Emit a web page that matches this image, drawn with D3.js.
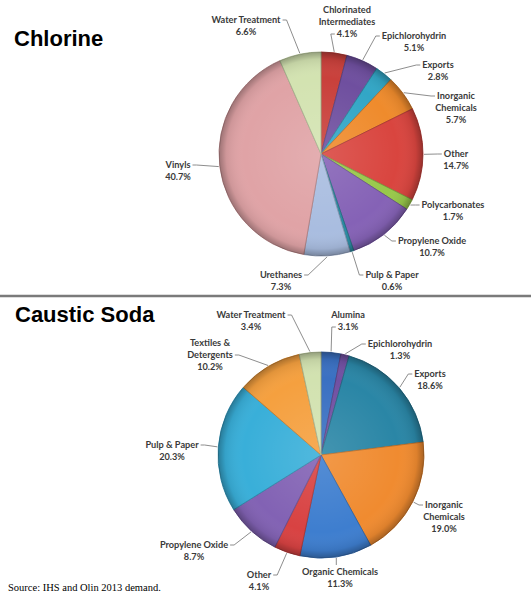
<!DOCTYPE html>
<html>
<head>
<meta charset="utf-8">
<script src="https://cdn.jsdelivr.net/npm/d3@7"></script>
<style>
  body { margin: 0; background: #fff; }
  svg { display: block; }
</style>
</head>
<body>
<div id="chart"></div>
<script>
// chlorine demand shares (%), clockwise from 12 o'clock
var clNames = ["Chlorinated\nIntermediates", "Epichlorohydrin", "Exports", "Inorganic\nChemicals",
               "Other", "Polycarbonates", "Propylene Oxide", "Pulp & Paper", "Urethanes",
               "Vinyls", "Water Treatment"];
var clValues = [4.1, 5.1, 2.8, 5.7, 14.7, 1.7, 10.7, 0.6, 7.3, 40.7, 6.6];
var clColors = ["#c9403b", "#6f4f9f", "#32a6c6", "#ef8b2c", "#d9453f", "#98c84a",
                "#8562b6", "#2a8ba2", "#a9bde0", "#e0a3a6", "#d3e3b1"];

// caustic soda demand shares (%)
var csNames = ["Alumina", "Epichlorohydrin", "Exports", "Inorganic\nChemicals",
               "Organic Chemicals", "Other", "Propylene Oxide", "Pulp & Paper",
               "Textiles &\nDetergents", "Water Treatment"];
var csValues = [3.1, 1.3, 18.6, 19.0, 11.3, 4.1, 8.7, 20.3, 10.2, 3.4];
var csColors = ["#3a70c2", "#7150a2", "#2a86a6", "#f08b30", "#3e7ecf", "#d84242",
                "#8262b4", "#39afd9", "#f5a03f", "#d2e2b0"];

// label layout: centre x, y of first line centre, which side the leader joins, line it joins
var clLabels = [
  {x: 347, y: 10, side: "L", row: 2}, {x: 414, y: 36, side: "L", row: 0},
  {x: 438, y: 65, side: "L", row: 0}, {x: 456, y: 96, side: "L", row: 0},
  {x: 456, y: 154, side: "L", row: 0}, {x: 453, y: 205, side: "L", row: 0},
  {x: 432, y: 241, side: "L", row: 0}, {x: 392, y: 275, side: "L", row: 0},
  {x: 281, y: 275, side: "R", row: 0}, {x: 178, y: 165, side: "R", row: 0},
  {x: 246, y: 20, side: "R", row: 0}
];
var csLabels = [
  {x: 348, y: 315, side: "L", row: 1}, {x: 400, y: 344, side: "L", row: 0},
  {x: 430, y: 374, side: "L", row: 0}, {x: 444, y: 505, side: "L", row: 0},
  {x: 340, y: 572, side: "T", row: 0}, {x: 259, y: 575, side: "R", row: 0},
  {x: 194, y: 545, side: "R", row: 0}, {x: 172, y: 445, side: "R", row: 0},
  {x: 210, y: 343, side: "R", row: 1}, {x: 251, y: 315, side: "R", row: 0}
];

var width = 531, height = 595;
var svg = d3.select("#chart").append("svg")
    .attr("width", width)
    .attr("height", height);

var defs = svg.append("defs");
var grad = defs.append("radialGradient").attr("id", "shade");
grad.append("stop").attr("offset", "0%").attr("stop-color", "#fff").attr("stop-opacity", 0.12);
grad.append("stop").attr("offset", "75%").attr("stop-color", "#fff").attr("stop-opacity", 0);
grad.append("stop").attr("offset", "93%").attr("stop-color", "#000").attr("stop-opacity", 0.08);
grad.append("stop").attr("offset", "100%").attr("stop-color", "#000").attr("stop-opacity", 0.3);

function drawPie(names, values, colors, labels, cx, cy, r) {
  var g = svg.append("g").attr("transform", "translate(" + cx + "," + cy + ")");
  var pie = d3.pie().sort(null).value(function(d) { return d; });
  var arc = d3.arc().innerRadius(0).outerRadius(r);
  var arcs = pie(values);

  g.selectAll("path.slice")
    .data(arcs)
    .enter().append("path")
    .attr("class", "slice")
    .attr("d", arc)
    .attr("fill", function(d, i) { return colors[i]; })
    .attr("stroke", function(d, i) { return d3.color(colors[i]).darker(0.7); })
    .attr("stroke-width", 0.9);

  g.append("circle")
    .attr("r", r)
    .attr("fill", "url(#shade)")
    .attr("pointer-events", "none");

  var lab = svg.append("g");
  arcs.forEach(function(d, i) {
    var L = labels[i];
    var lines = names[i].split("\n").concat([d3.format(".1f")(values[i]) + "%"]);
    var t = lab.append("text")
      .attr("text-anchor", "middle")
      .style("font-family", "Lato, 'Liberation Sans', sans-serif")
      .style("font-weight", "bold")
      .style("font-size", "9.2px")
      .attr("fill", "#3a3a3a");
    var spans = lines.map(function(s, k) {
      return t.append("tspan")
        .attr("x", L.x)
        .attr("y", L.y + k * 12 + 3)
        .text(s);
    });

    var mid = (d.startAngle + d.endAngle) / 2;
    var px = cx + (r + 1) * Math.sin(mid),
        py = cy - (r + 1) * Math.cos(mid);
    var w = spans[L.row].node().getComputedTextLength();
    var ly = L.y + L.row * 12, pts;
    if (L.side == "L") {
      var ex = L.x - w / 2 - 2;
      pts = [[ex, ly], [ex - 4, ly], [px, py]];
    } else if (L.side == "R") {
      var ex2 = L.x + w / 2 + 2;
      pts = [[ex2, ly], [ex2 + 4, ly], [px, py]];
    } else {
      pts = [[px, L.y - 7], [px, py]];
    }
    lab.append("path")
      .attr("d", d3.line()(pts))
      .attr("fill", "none")
      .attr("stroke", "#808080")
      .attr("stroke-width", 0.9);
  });
}

drawPie(clNames, clValues, clColors, clLabels, 321, 154, 102);
drawPie(csNames, csValues, csColors, csLabels, 321, 455, 103);

// separator
svg.append("line")
  .attr("x1", 0).attr("x2", width)
  .attr("y1", 296).attr("y2", 296)
  .attr("stroke", "#7a7a7a")
  .attr("stroke-width", 2.5);

svg.append("text")
  .attr("x", 14).attr("y", 46)
  .style("font-family", "'Liberation Sans', Arial, sans-serif")
  .style("font-weight", "bold")
  .style("font-size", "22px")
  .text("Chlorine");

svg.append("text")
  .attr("x", 15).attr("y", 322)
  .style("font-family", "'Liberation Sans', Arial, sans-serif")
  .style("font-weight", "bold")
  .style("font-size", "22px")
  .text("Caustic Soda");

svg.append("text")
  .attr("x", 8).attr("y", 591)
  .style("font-family", "'Liberation Serif', 'Times New Roman', serif")
  .style("font-size", "10.5px")
  .text("Source: IHS and Olin 2013 demand.");
</script>
</body>
</html>
